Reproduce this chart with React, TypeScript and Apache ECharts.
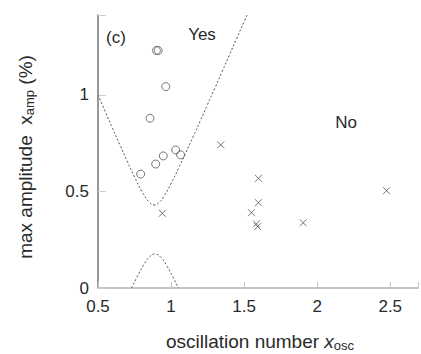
import React, { useEffect, useRef } from "react";
import * as echarts from "echarts";

const xTicks = [0.5, 1, 1.5, 2, 2.5];
const yTicks = [0, 0.5, 1];

const yesPoints: number[][] = [
  [0.9, 1.23], [0.912, 1.23], [0.964, 1.043], [0.856, 0.879], [0.792, 0.59],
  [0.895, 0.642], [0.947, 0.684], [1.032, 0.715], [1.065, 0.69],
];

const noPoints: number[][] = [
  [0.94, 0.387], [1.34, 0.741], [1.598, 0.568], [2.475, 0.504], [1.598, 0.442],
  [1.55, 0.39], [1.584, 0.332], [1.592, 0.318], [1.904, 0.338],
];

const upperBoundary: number[][] = [
  [0.5, 1.0], [0.55, 0.913], [0.6, 0.826], [0.65, 0.741], [0.7, 0.657],
  [0.75, 0.575], [0.8, 0.501], [0.85, 0.445], [0.885, 0.43], [0.92, 0.444],
  [0.95, 0.473], [1.0, 0.541], [1.05, 0.618], [1.1, 0.699], [1.15, 0.782],
  [1.2, 0.866], [1.25, 0.951], [1.3, 1.036], [1.35, 1.122], [1.4, 1.208],
  [1.45, 1.294], [1.5, 1.38], [1.52, 1.414],
];

const lowerBoundary: number[][] = [
  [0.73, 0], [0.77, 0.061], [0.81, 0.116], [0.85, 0.159], [0.89, 0.176],
  [0.93, 0.159], [0.97, 0.116], [1.01, 0.061], [1.05, 0],
];

const FONT = "Liberation Sans, Arial, sans-serif";
const TXT = "#2a2a2a";

export default function App() {
  const ref = useRef<HTMLDivElement>(null);
  useEffect(() => {
    const chart = echarts.init(ref.current!, null, { renderer: "svg" });
    const crossPath = "path://M0,0L10,10M10,0L0,10";
    const nameRich = {
      a: { fontSize: 19, fontFamily: FONT, fill: TXT, lineHeight: 22, verticalAlign: "middle" },
      i: { fontSize: 19, fontFamily: FONT, fontStyle: "italic", fill: TXT, lineHeight: 22, verticalAlign: "middle" },
      s: { fontSize: 13, fontFamily: FONT, fill: TXT, lineHeight: 13, verticalAlign: "bottom", padding: [7, 0, 0, 0] },
    };
    chart.setOption({
      animation: false,
      grid: { left: 98, right: 0, top: 15, bottom: 66 },
      xAxis: {
        type: "value",
        min: 0.5,
        max: 2.69,
        interval: 0.5,
        axisLine: { lineStyle: { color: "#c4c4c4", width: 2 } },
        axisTick: { inside: true, length: 6, lineStyle: { color: "#c4c4c4" } },
        splitLine: { show: false },
        axisLabel: {
          color: TXT, fontSize: 17, fontFamily: FONT, margin: 10,
          formatter: (v: number) => (xTicks.includes(v) ? String(v) : ""),
        },
      },
      yAxis: {
        type: "value",
        min: 0,
        max: 1.414,
        interval: 0.5,
        axisLine: { show: true, lineStyle: { color: "#777", width: 1.5 } },
        axisTick: { inside: true, length: 8, lineStyle: { color: "#ccc" } },
        splitLine: { show: false },
        axisLabel: {
          color: TXT, fontSize: 17, fontFamily: FONT, margin: 9,
          formatter: (v: number) => (yTicks.includes(v) ? String(v) : ""),
        },
      },
      graphic: [
        { type: "text", x: 116, y: 37, style: { text: "(c)", font: `17px ${FONT}`, fill: TXT, align: "center", verticalAlign: "middle" } },
        { type: "text", x: 202, y: 34, style: { text: "Yes", font: `17px ${FONT}`, fill: TXT, align: "center", verticalAlign: "middle" } },
        { type: "text", x: 346, y: 122, style: { text: "No", font: `17px ${FONT}`, fill: TXT, align: "center", verticalAlign: "middle" } },
        {
          type: "text", x: 260, y: 341,
          style: {
            text: "{a|oscillation number }{i|x}{s|osc}",
            align: "center", verticalAlign: "middle", fill: TXT,
            rich: nameRich,
          },
        },
        {
          type: "text", x: 25, y: 157, rotation: Math.PI / 2,
          style: {
            text: "{a|max amplitude  x}{s|amp}{a| (%)}",
            align: "center", verticalAlign: "middle", fill: TXT,
            rich: nameRich,
          },
        },
      ],
      series: [
        {
          type: "line", data: upperBoundary, showSymbol: false, symbol: "none", smooth: true,
          lineStyle: { color: "#555", width: 1, type: [2, 2] }, z: 1,
        },
        {
          type: "line", data: lowerBoundary, showSymbol: false, symbol: "none", smooth: true,
          lineStyle: { color: "#555", width: 1, type: [2, 2] }, z: 1,
        },
        {
          type: "scatter", data: yesPoints, symbol: "circle", symbolSize: 8,
          itemStyle: { color: "rgba(0,0,0,0)", borderColor: "#555", borderWidth: 1 }, z: 3,
        },
        {
          type: "scatter", data: noPoints, symbol: crossPath, symbolSize: 7,
          itemStyle: { color: "rgba(0,0,0,0)", borderColor: "#555", borderWidth: 1 }, z: 3,
        },
      ],
    });
    return () => chart.dispose();
  }, []);
  return <div ref={ref} style={{ position: "fixed", left: 0, top: 0, width: 421, height: 354, background: "#fff" }} />;
}
